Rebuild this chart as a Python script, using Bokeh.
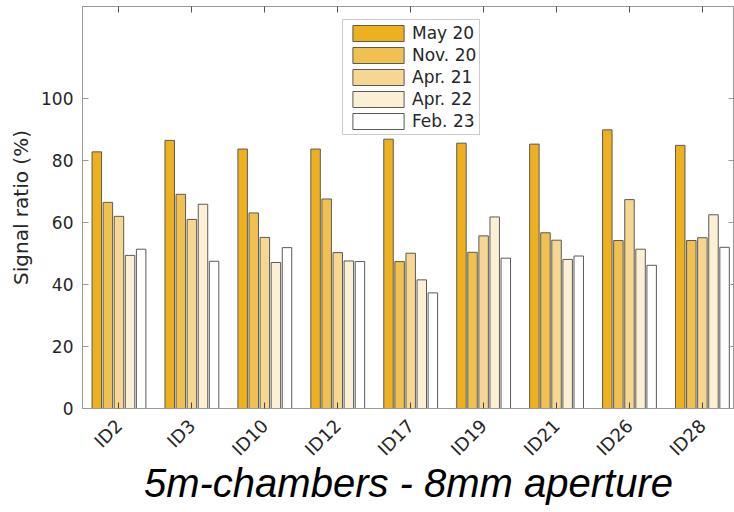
import math
from bokeh.plotting import figure
from bokeh.models import (ColumnDataSource, Range1d, FixedTicker, LinearAxis,
                          Legend, LegendItem, CustomJSTickFormatter)
from bokeh.embed import file_html
from bokeh.resources import INLINE

categories = ["ID2", "ID3", "ID10", "ID12", "ID17", "ID19", "ID21", "ID26", "ID28"]
series_names = ["May 20", "Nov. 20", "Apr. 21", "Apr. 22", "Feb. 23"]
may20 = [82.8, 86.5, 83.7, 83.7, 86.9, 85.6, 85.3, 89.9, 84.9]
nov20 = [66.5, 69.1, 63.1, 67.6, 47.4, 50.4, 56.7, 54.2, 54.2]
apr21 = [62.0, 61.0, 55.2, 50.3, 50.1, 55.7, 54.3, 67.4, 55.1]
apr22 = [49.4, 65.9, 47.1, 47.6, 41.5, 61.8, 48.1, 51.4, 62.5]
feb23 = [51.4, 47.5, 51.9, 47.4, 37.3, 48.5, 49.2, 46.2, 52.0]
y_ticks = [0, 20, 40, 60, 80, 100]
chart_title = "5m-chambers - 8mm aperture"

series_values = [may20, nov20, apr21, apr22, feb23]
colors = ["#EDB120", "#F0C150", "#F6D791", "#FCF0D4", "#FFFFFF"]

TXT = "#262626"
AX = "#9a9a9a"

p = figure(width=734, height=512, output_backend="svg", toolbar_location=None,
           x_range=Range1d(0.5, 9.44), y_range=Range1d(0, 129.7),
           min_border_left=82, min_border_right=0, min_border_top=6,
           min_border_bottom=104)
p.grid.visible = False
p.outline_line_color = AX
p.background_fill_color = "white"
p.border_fill_color = "white"

positions = list(range(1, len(categories) + 1))
pitch = 0.152
bar_w = 0.13
items = []
for i, (name, vals, col) in enumerate(zip(series_names, series_values, colors)):
    off = (i - 2) * pitch
    src = ColumnDataSource(dict(x=[pos + off for pos in positions], top=vals,
                                cat=categories))
    r = p.vbar(x="x", top="top", bottom=0, width=bar_w, source=src,
               fill_color=col, line_color="#5a5a5a", line_width=1)
    items.append(LegendItem(label=name, renderers=[r]))

# bottom x axis
xa = p.xaxis[0]
xa.ticker = FixedTicker(ticks=positions)
xa.major_label_overrides = {pos: c for pos, c in zip(positions, categories)}
xa.major_label_orientation = math.pi / 4
xa.major_label_text_font = "DejaVu Sans"
xa.major_label_text_font_size = "18px"
xa.major_label_text_color = TXT
xa.major_tick_in = 6
xa.major_tick_out = 0
xa.minor_tick_line_color = None
xa.axis_line_color = AX
xa.major_tick_line_color = "#444444"
xa.major_label_standoff = 14
xa.axis_label = chart_title
xa.axis_label_text_font = "Liberation Sans"
xa.axis_label_text_font_style = "italic"
xa.axis_label_text_font_size = "40px"
xa.axis_label_text_color = "black"
xa.axis_label_standoff = -9

# left y axis
ya = p.yaxis[0]
ya.ticker = FixedTicker(ticks=y_ticks)
ya.major_label_text_font = "DejaVu Sans"
ya.major_label_text_font_size = "17px"
ya.major_label_text_color = TXT
ya.major_tick_in = 6
ya.major_tick_out = 0
ya.minor_tick_line_color = None
ya.axis_line_color = AX
ya.major_tick_line_color = AX
ya.major_label_standoff = 9
ya.axis_label = "Signal ratio (%)"
ya.axis_label_text_font = "DejaVu Sans"
ya.axis_label_text_font_size = "20px"
ya.axis_label_text_font_style = "normal"
ya.axis_label_text_color = TXT
ya.axis_label_standoff = 5

# right and top mirror axes (ticks only, no labels)
blank = CustomJSTickFormatter(code="return ''")
ra = LinearAxis(ticker=FixedTicker(ticks=y_ticks), major_tick_in=6, major_tick_out=0,
                minor_tick_line_color=None, axis_line_color=AX,
                major_tick_line_color=AX, formatter=blank,
                major_label_text_font_size="1px", major_label_standoff=0)
p.add_layout(ra, "right")
ta = LinearAxis(ticker=FixedTicker(ticks=positions), major_tick_in=6, major_tick_out=0,
                minor_tick_line_color=None, axis_line_color=AX,
                major_tick_line_color="#555555", formatter=blank,
                major_label_text_font_size="1px", major_label_standoff=0)
p.add_layout(ta, "above")

legend = Legend(items=items, location=(260, 273), orientation="vertical",
                glyph_width=64, glyph_height=20, label_height=20, spacing=2,
                padding=3, margin=0, label_standoff=2,
                label_text_font="DejaVu Sans", label_text_font_size="17px",
                label_text_color=TXT, border_line_color=AX, border_line_width=1,
                background_fill_color="white", background_fill_alpha=1.0)
p.add_layout(legend, "center")

open("out.html", "w").write(file_html(p, INLINE))
